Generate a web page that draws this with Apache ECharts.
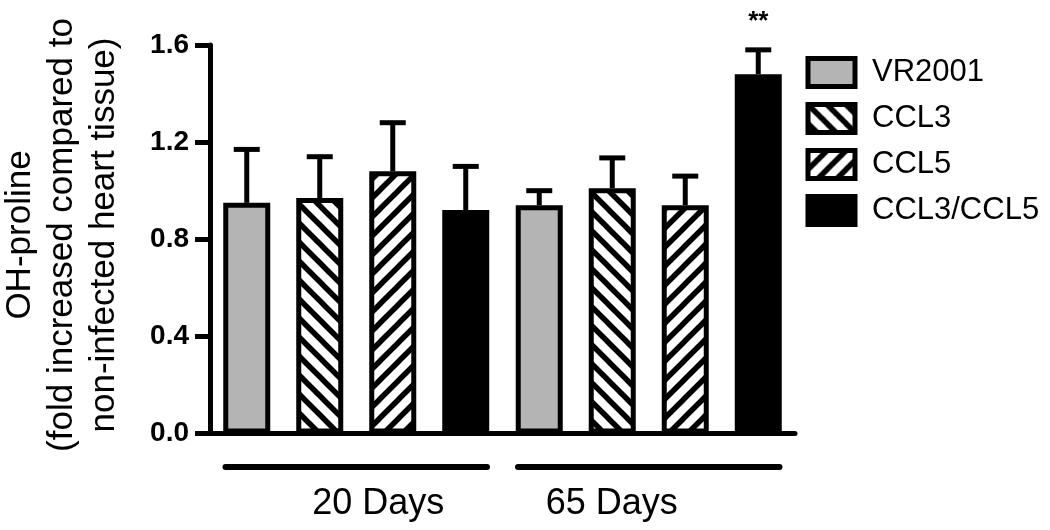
<!DOCTYPE html>
<html><head><meta charset="utf-8">
<script src="https://cdn.jsdelivr.net/npm/echarts@6/dist/echarts.min.js"></script>
<style>html,body{margin:0;padding:0;background:#fff}#c{width:1050px;height:530px}</style>
</head><body><div id="c"></div>
<script>
const groups = ['20 Days', '65 Days'];
const seriesNames = ['VR2001', 'CCL3', 'CCL5', 'CCL3/CCL5'];
const vr2001 = [0.95, 0.94];
const ccl3 = [0.97, 1.01];
const ccl5 = [1.08, 0.94];
const ccl3ccl5 = [0.92, 1.48];
const vr2001Err = [0.22, 0.06];
const ccl3Err = [0.17, 0.125];
const ccl5Err = [0.20, 0.12];
const ccl3ccl5Err = [0.18, 0.10];
const significance = [['', ''], ['', ''], ['', ''], ['', '**']];
const yTickLabels = ['0.0', '0.4', '0.8', '1.2', '1.6'];
const yTitle = 'OH-proline\n(fold increased compared to\nnon-infected heart tissue)';

const values = [vr2001, ccl3, ccl5, ccl3ccl5];
const errors = [vr2001Err, ccl3Err, ccl5Err, ccl3ccl5Err];
const FONT = '"Liberation Sans", Arial, Helvetica, sans-serif';

function hatch(dir) {
  const s = 19;
  const c = document.createElement('canvas');
  c.width = s; c.height = s;
  const g = c.getContext('2d');
  g.fillStyle = '#fff'; g.fillRect(0, 0, s, s);
  g.strokeStyle = '#000'; g.lineWidth = 5.5;
  for (let k = -1; k <= 1; k++) {
    g.beginPath();
    if (dir === 'back') { g.moveTo(k * s - 6, -6); g.lineTo(k * s + s + 6, s + 6); }
    else { g.moveTo(k * s - 6, s + 6); g.lineTo(k * s + s + 6, -6); }
    g.stroke();
  }
  return c;
}
const fills = ['#b4b4b4', { image: hatch('back'), repeat: 'repeat' }, { image: hatch('fwd'), repeat: 'repeat' }, '#000'];
const BAR_W = 47, STEP = 73;

const chart = echarts.init(document.getElementById('c'), null, { renderer: 'canvas' });
const series = [];
seriesNames.forEach((n, i) => {
  series.push({
    type: 'bar', name: n, data: values[i], barWidth: BAR_W, barGap: ((STEP - BAR_W) / BAR_W * 100).toFixed(2) + '%',
    itemStyle: { color: fills[i], borderColor: '#000', borderWidth: 5 }, z: 3, silent: true
  });
});
seriesNames.forEach((n, i) => {
  series.push({
    type: 'custom', name: n + ' error', z: 2, silent: true,
    data: groups.map((g, j) => [j, values[i][j], errors[i][j]]),
    renderItem: function (params, api) {
      const j = api.value(0), v = api.value(1), e = api.value(2);
      const b = api.coord([j, v]);
      const t = api.coord([j, v + e]);
      const cx = b[0] + (i - 1.5) * STEP;
      const children = [
        { type: 'line', shape: { x1: cx, y1: b[1], x2: cx, y2: t[1] }, style: { stroke: '#000', lineWidth: 5 } },
        { type: 'line', shape: { x1: cx - 13, y1: t[1], x2: cx + 13, y2: t[1] }, style: { stroke: '#000', lineWidth: 5 } }
      ];
      const s = significance[i][params.dataIndex];
      if (s) children.push({ type: 'text', x: cx, y: t[1] - 28, style: { text: s, fill: '#000', font: 'bold 26px ' + FONT, align: 'center', verticalAlign: 'middle' } });
      return { type: 'group', children };
    }
  });
});
series.push({
  type: 'custom', name: 'group lines', silent: true,
  data: groups.map((g, j) => [j, 0]),
  renderItem: function (params, api) {
    const p = api.coord([api.value(0), 0]);
    const bw = api.size([1, 0])[0];
    return { type: 'line', shape: { x1: p[0] - bw * 0.447, y1: p[1] + 33.5, x2: p[0] + bw * 0.447, y2: p[1] + 33.5 }, style: { stroke: '#000', lineWidth: 6, lineCap: 'round' } };
  }
});

chart.setOption({
  animation: false,
  backgroundColor: '#fff',
  grid: { left: 210, right: 255, top: 45, bottom: 96.5 },
  xAxis: {
    type: 'category',
    data: [
      { value: groups[0], textStyle: { padding: [0, 0, 0, 44] } },
      { value: groups[1], textStyle: { padding: [0, 74, 0, 0] } }
    ],
    axisLine: { lineStyle: { color: '#000', width: 5 } },
    axisTick: { show: false },
    axisLabel: { color: '#000', fontSize: 36, fontFamily: FONT, margin: 53 }
  },
  yAxis: {
    type: 'value', min: 0, max: 1.6, interval: 0.4,
    axisLine: { show: true, lineStyle: { color: '#000', width: 5 } },
    axisTick: { show: true, length: 15, lineStyle: { color: '#000', width: 5 } },
    splitLine: { show: false },
    axisLabel: { color: '#000', fontSize: 28, fontWeight: 'bold', fontFamily: FONT, margin: 21,
      formatter: (v) => yTickLabels[Math.round(v / 0.4)] }
  },
  legend: {
    data: seriesNames, orient: 'vertical', left: 800.5, top: 51, itemWidth: 47, itemHeight: 28, itemGap: 13,
    icon: 'rect', selectedMode: false,
    itemStyle: { borderColor: '#000', borderWidth: 5 },
    textStyle: { fontSize: 31, color: '#000', fontFamily: FONT, padding: [0, 0, 0, 12] }
  },
  graphic: [{
    type: 'text', x: 62, y: 235, rotation: Math.PI / 2, silent: true,
    style: { text: yTitle, fill: '#000', fontSize: 35, fontFamily: FONT, lineHeight: 42, align: 'center', verticalAlign: 'middle' }
  }],
  series
});
</script></body></html>
